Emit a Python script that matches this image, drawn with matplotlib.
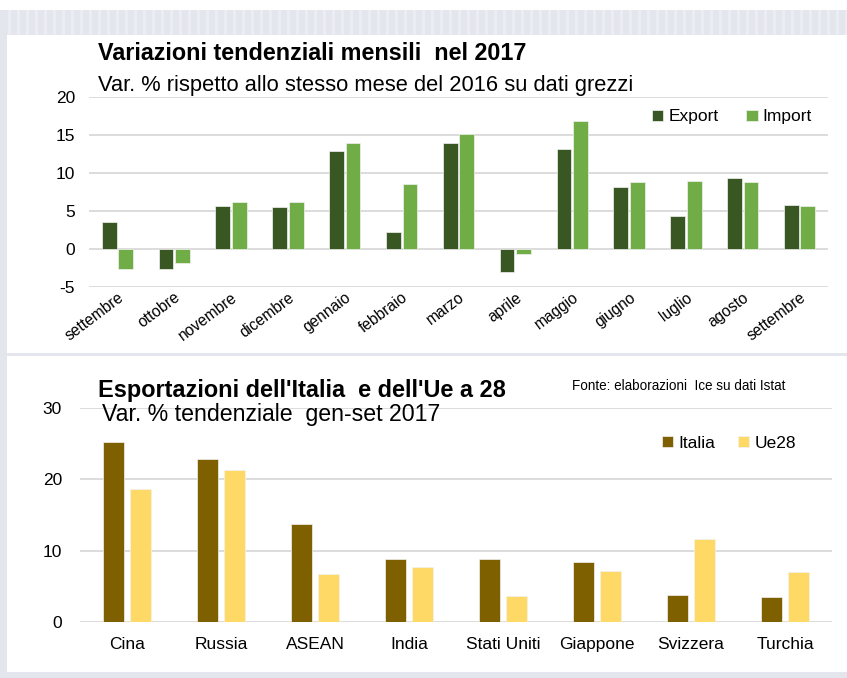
import matplotlib
matplotlib.use("Agg")
import matplotlib.pyplot as plt
import numpy as np
from matplotlib.patches import Rectangle

plt.rcParams['font.family'] = ['Liberation Sans', 'DejaVu Sans']
plt.rcParams['axes.unicode_minus'] = False

# ---------------- data ----------------
months = ["settembre", "ottobre", "novembre", "dicembre", "gennaio", "febbraio",
          "marzo", "aprile", "maggio", "giugno", "luglio", "agosto", "settembre"]
export_vals = [3.5, -2.6, 5.7, 5.5, 12.9, 2.3, 13.9, -3.0, 13.1, 8.1, 4.4, 9.4, 5.8]
import_vals = [-2.6, -1.8, 6.2, 6.2, 13.9, 8.6, 15.1, -0.7, 16.8, 8.8, 9.0, 8.8, 5.6]

countries = ["Cina", "Russia", "ASEAN", "India", "Stati Uniti", "Giappone", "Svizzera", "Turchia"]
italia_vals = [25.2, 22.9, 13.8, 8.9, 8.8, 8.4, 3.8, 3.5]
ue28_vals = [18.6, 21.3, 6.7, 7.7, 3.6, 7.2, 11.6, 7.0]

top_yticks = [-5, 0, 5, 10, 15, 20]
bot_yticks = [0, 10, 20, 30]

# ---------------- styles ----------------
C_EXP = "#385723"
C_IMP = "#70AD47"
C_ITA = "#7F6000"
C_UE = "#FFD966"
C_GRID = "#D9D9D9"
C_FRAME = "#E3E6ED"
TICK_FS = 12.5

W, H = 847, 678
fig = plt.figure(figsize=(W / 100, H / 100), dpi=100)
fig.patch.set_facecolor("white")

def fx(x):
    return x / W

def fy(y):
    return 1 - y / H

# frame decoration
frame = [
    (0, 10, W, 25),      # top band
    (0, 35, 7, H - 35),  # left band
    (7, 353, W - 7, 3),  # separator
    (0, 672, W, 6),      # bottom band
]
for (x, y, w, h) in frame:
    fig.patches.append(Rectangle((fx(x), fy(y + h)), w / W, h / H,
                                 transform=fig.transFigure, facecolor=C_FRAME,
                                 edgecolor="none", zorder=0))
for xs in range(8, W, 9):
    fig.patches.append(Rectangle((fx(xs), fy(35)), 3 / W, 25 / H,
                                 transform=fig.transFigure, facecolor="#EBEDF2",
                                 edgecolor="none", zorder=0))

def style_axes(ax):
    for s in ax.spines.values():
        s.set_visible(False)
    ax.tick_params(axis="both", length=0, labelsize=TICK_FS, colors="black")
    ax.yaxis.grid(True, color=C_GRID, linewidth=1.3)
    ax.set_axisbelow(True)
    ax.set_facecolor("none")

# ---------------- top chart ----------------
ax1 = fig.add_axes([fx(89), fy(287), (828 - 89) / W, (287 - 97) / H])
x1 = np.arange(len(months))
bw1 = 0.26
ax1.bar(x1 - 0.145, export_vals, bw1, color=C_EXP, edgecolor="#F2F2F2", linewidth=0.5, label="Export")
ax1.bar(x1 + 0.145, import_vals, bw1, color=C_IMP, edgecolor="#F2F2F2", linewidth=0.5, label="Import")
ax1.set_xlim(-0.5, len(months) - 0.5)
ax1.set_ylim(-5, 20)
ax1.set_yticks(top_yticks)
style_axes(ax1)
ax1.tick_params(axis="y", pad=10)
ax1.set_xticks(x1)
ax1.set_xticklabels(months, rotation=37, ha="right", rotation_mode="anchor", fontsize=11.2)
ax1.tick_params(axis="x", pad=2)
ax1.legend(loc="center right", bbox_to_anchor=(fx(812), fy(117)),
           bbox_transform=fig.transFigure, ncol=2, frameon=False,
           fontsize=TICK_FS, handlelength=0.65, handleheight=0.65,
           handletextpad=0.3, columnspacing=1.6, borderpad=0, borderaxespad=0)

# ---------------- bottom chart ----------------
ax2 = fig.add_axes([fx(80), fy(622), (832 - 80) / W, (622 - 408) / H])
x2 = np.arange(len(countries))
bw2 = 0.224
ax2.bar(x2 - 0.144, italia_vals, bw2, color=C_ITA, edgecolor="#F2F2F2", linewidth=0.5, label="Italia")
ax2.bar(x2 + 0.144, ue28_vals, bw2, color=C_UE, edgecolor="#F2F2F2", linewidth=0.5, label="Ue28")
ax2.set_xlim(-0.5, len(countries) - 0.5)
ax2.set_ylim(0, 30)
ax2.set_yticks(bot_yticks)
style_axes(ax2)
ax2.tick_params(axis="y", pad=13)
ax2.set_xticks(x2)
ax2.set_xticklabels(countries)
ax2.tick_params(axis="x", pad=11)
ax2.legend(loc="center right", bbox_to_anchor=(fx(796), fy(443)),
           bbox_transform=fig.transFigure, ncol=2, frameon=False,
           fontsize=TICK_FS, handlelength=0.65, handleheight=0.65,
           handletextpad=0.3, columnspacing=1.3, borderpad=0, borderaxespad=0)

# ---------------- titles (fit to measured widths) ----------------
fig.canvas.draw()
renderer = fig.canvas.get_renderer()

def fit_text(s, x_left, x_right, y_center, weight="normal", fs0=14):
    t = fig.text(fx(x_left), fy(y_center), s, fontsize=fs0, fontweight=weight,
                 ha="left", va="center")
    bb = t.get_window_extent(renderer=renderer)
    t.set_fontsize(fs0 * (x_right - x_left) / bb.width)
    return t

fit_text("Variazioni tendenziali mensili  nel 2017", 98, 527, 54, weight="bold")
fit_text("Var. % rispetto allo stesso mese del 2016 su dati grezzi", 98, 636, 85)
fit_text("Esportazioni dell'Italia  e dell'Ue a 28", 98, 507, 390, weight="bold")
fit_text("Var. % tendenziale  gen-set 2017", 102, 443, 415)
fit_text("Fonte: elaborazioni  Ice su dati Istat", 572, 787, 386)

fig.savefig("out.png", dpi=100, facecolor="white")
